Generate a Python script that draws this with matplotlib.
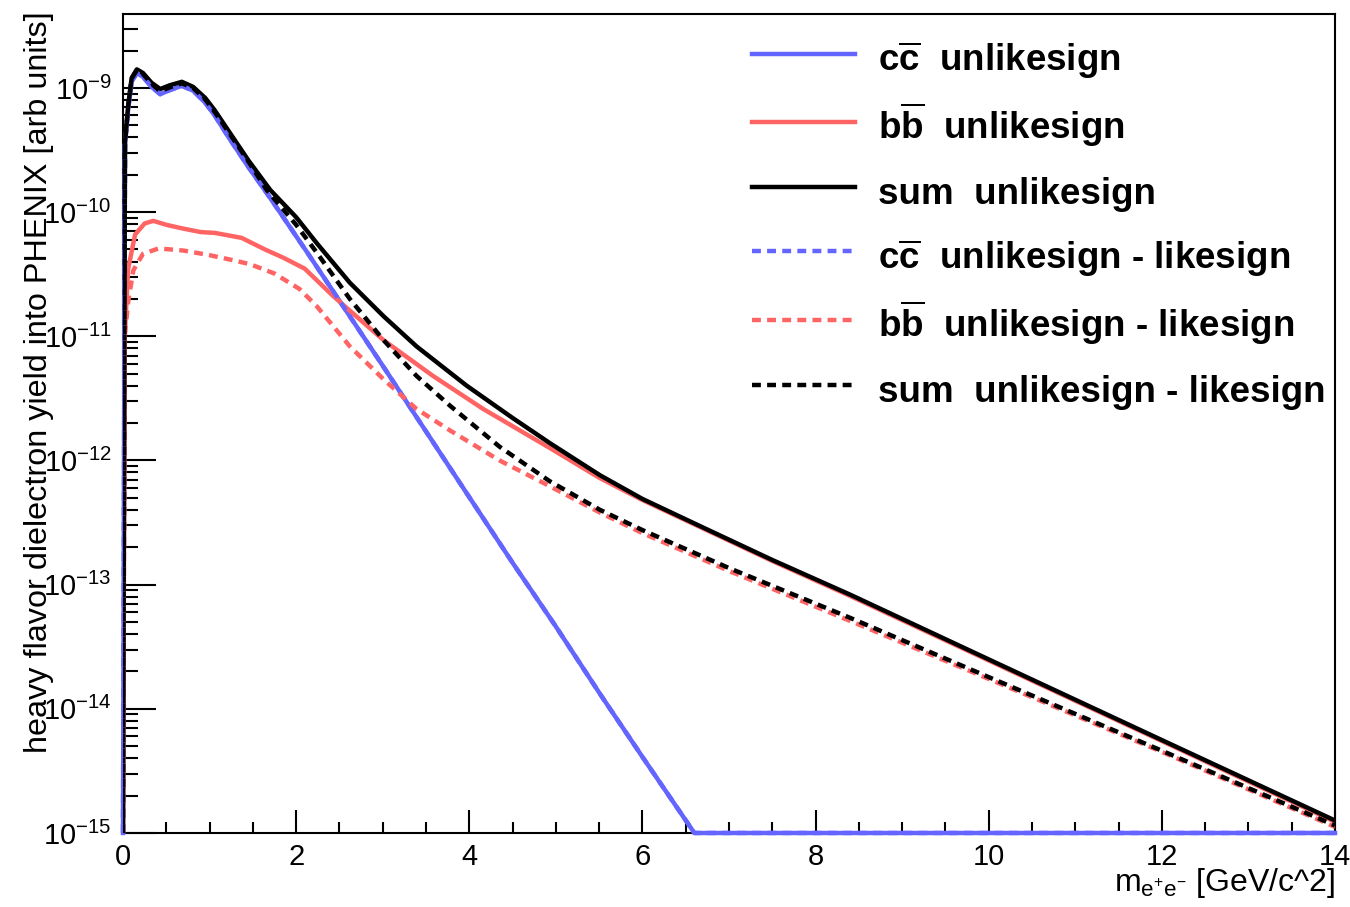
import matplotlib
matplotlib.use('Agg')
import matplotlib.pyplot as plt
from matplotlib.ticker import LogLocator, MultipleLocator, NullFormatter

plt.rcParams['font.family'] = ['Liberation Sans', 'DejaVu Sans']
plt.rcParams['mathtext.fontset'] = 'custom'
plt.rcParams['mathtext.rm'] = 'Liberation Sans'
plt.rcParams['mathtext.it'] = 'Liberation Sans:italic'
plt.rcParams['mathtext.bf'] = 'Liberation Sans:bold'
plt.rcParams['mathtext.default'] = 'regular'

# dielectron mass (GeV/c^2) and yields per source
m_cc = [0.0, 0.023, 0.06, 0.1, 0.16, 0.23, 0.33, 0.43, 0.54, 0.68, 0.81, 0.95,
        1.06, 1.22, 1.45, 1.7, 2.14, 2.62, 3.0, 3.39, 3.93, 4.5, 5.0, 5.5, 6.0,
        6.6, 8.0, 10.0, 12.0, 14.0]
cc_unlike = [1e-15, 3.5e-10, 6.8e-10, 1.12e-9, 1.32e-9, 1.23e-9, 1.02e-9, 8.9e-10,
             9.6e-10, 1.04e-9, 9.5e-10, 7.6e-10, 6.0e-10, 4.0e-10, 2.3e-10,
             1.3e-10, 4.6e-11, 1.45e-11, 5.8e-12, 2.24e-12, 6.0e-13, 1.5e-13,
             4.6e-14, 1.35e-14, 4.1e-15, 1e-15, 1e-15, 1e-15, 1e-15, 1e-15]
cc_sub = cc_unlike  # like-sign subtraction leaves charm unchanged

m_bb = [0.0, 0.02, 0.06, 0.14, 0.25, 0.35, 0.5, 0.68, 0.9, 1.06, 1.37, 1.64, 1.85,
        2.1, 2.43, 3.01, 3.58, 4.16, 4.93, 5.51, 6.0, 6.67, 7.5, 8.4, 10.0, 12.0,
        14.0]
bb_unlike = [1e-15, 1.0e-11, 3.5e-11, 6.6e-11, 8.1e-11, 8.5e-11, 7.9e-11, 7.4e-11,
             6.9e-11, 6.8e-11, 6.2e-11, 5.0e-11, 4.3e-11, 3.5e-11, 2.1e-11,
             9.3e-12, 4.8e-12, 2.6e-12, 1.26e-12, 7.2e-13, 4.8e-13, 2.9e-13,
             1.55e-13, 8.1e-14, 2.45e-14, 5.5e-15, 1.23e-15]

m_bb_sub = [0.0, 0.02, 0.06, 0.12, 0.23, 0.41, 0.7, 1.0, 1.27, 1.47, 1.75, 2.04,
            2.24, 2.62, 3.01, 3.39, 3.78, 4.35, 4.93, 5.51, 6.0, 7.0, 8.4, 10.0,
            12.0, 14.0]
bb_sub = [1e-15, 1.0e-11, 1.9e-11, 3.4e-11, 4.6e-11, 5.1e-11, 4.9e-11, 4.5e-11,
          4.1e-11, 3.8e-11, 3.2e-11, 2.4e-11, 1.74e-11, 8.3e-12, 4.5e-12, 2.6e-12,
          1.74e-12, 1.0e-12, 6.2e-13, 3.8e-13, 2.6e-13, 1.29e-13, 5.1e-14,
          1.74e-14, 4.5e-15, 1.12e-15]

m_sum = [0.0, 0.023, 0.06, 0.1, 0.16, 0.23, 0.33, 0.43, 0.54, 0.68, 0.81, 0.95,
         1.06, 1.22, 1.45, 1.7, 2.0, 2.24, 2.62, 3.01, 3.39, 3.97, 4.5, 4.93, 5.51,
         6.0, 6.67, 7.5, 8.4, 10.0, 12.0, 14.0]
sum_unlike = [1e-15, 3.7e-10, 7.2e-10, 1.2e-9, 1.41e-9, 1.32e-9, 1.1e-9, 9.8e-10,
              1.05e-9, 1.12e-9, 1.02e-9, 8.3e-10, 6.6e-10, 4.5e-10, 2.6e-10,
              1.51e-10, 9.1e-11, 5.6e-11, 2.7e-11, 1.45e-11, 8.3e-12, 4.0e-12,
              2.2e-12, 1.38e-12, 7.6e-13, 4.9e-13, 2.95e-13, 1.58e-13, 8.3e-14,
              2.5e-14, 5.6e-15, 1.26e-15]

m_sum_sub = [0.0, 0.023, 0.06, 0.1, 0.16, 0.23, 0.33, 0.43, 0.54, 0.68, 0.81, 0.95,
             1.06, 1.22, 1.45, 1.66, 2.0, 2.24, 2.62, 3.01, 3.39, 3.78, 4.35, 4.93,
             5.51, 6.0, 7.0, 8.4, 10.0, 12.0, 14.0]
sum_sub = [1e-15, 3.6e-10, 7.1e-10, 1.19e-9, 1.39e-9, 1.3e-9, 1.08e-9, 9.4e-10,
           1.01e-9, 1.09e-9, 1.0e-9, 8.1e-10, 6.4e-10, 4.4e-10, 2.55e-10, 1.51e-10,
           7.9e-11, 4.7e-11, 2.0e-11, 9.3e-12, 4.8e-12, 2.75e-12, 1.29e-12,
           6.8e-13, 4.0e-13, 2.75e-13, 1.36e-13, 5.4e-14, 1.8e-14, 4.6e-15,
           1.15e-15]

labels = [r'$\mathbf{c}\overline{\mathbf{c}}$  unlikesign',
          r'$\mathbf{b}\overline{\mathbf{b}}$  unlikesign',
          'sum  unlikesign',
          r'$\mathbf{c}\overline{\mathbf{c}}$  unlikesign - likesign',
          r'$\mathbf{b}\overline{\mathbf{b}}$  unlikesign - likesign',
          'sum  unlikesign - likesign']

blue = '#6464ff'
red = '#ff6464'
lw = 3.2
dash = (0, (2.0, 1.4))

fig = plt.figure(figsize=(13.5, 9.07), dpi=100)
ax = fig.add_axes([0.0911, 0.0816, 0.8978, 0.903])

ax.plot(m_cc, cc_unlike, color=blue, lw=lw, label=labels[0], clip_on=False, zorder=3)
ax.plot(m_bb, bb_unlike, color=red, lw=lw, label=labels[1], zorder=3)
ax.plot(m_sum, sum_unlike, color='black', lw=lw, label=labels[2], zorder=3)
ax.plot(m_cc, cc_sub, color=blue, lw=lw, ls=dash, label=labels[3], clip_on=False, zorder=3)
ax.plot(m_bb_sub, bb_sub, color=red, lw=lw, ls=dash, label=labels[4], zorder=3)
ax.plot(m_sum_sub, sum_sub, color='black', lw=lw, ls=dash, label=labels[5], zorder=3)

ax.set_yscale('log')
ax.set_xlim(0, 14)
ax.set_ylim(1e-15, 3.94e-9)

ax.xaxis.set_major_locator(MultipleLocator(2))
ax.xaxis.set_minor_locator(MultipleLocator(0.5))
ax.yaxis.set_major_locator(LogLocator(base=10, numticks=20))
ax.yaxis.set_minor_locator(LogLocator(base=10, subs=range(2, 10), numticks=20))
ax.yaxis.set_minor_formatter(NullFormatter())

ax.tick_params(which='both', direction='in', top=False, right=False, width=1.5,
               labelsize=21)
ax.tick_params(axis='x', which='major', length=16.5, pad=7.5)
ax.tick_params(axis='x', which='minor', length=8)
ax.tick_params(axis='y', which='major', length=24, pad=8)
ax.tick_params(axis='y', which='minor', length=11)
for sp in ax.spines.values():
    sp.set_linewidth(1.5)

ax.set_xlabel(r'$m_{e^{+}e^{-}}$ [GeV/c^2]', fontsize=23, loc='right')
ax.xaxis.set_label_coords(1.0, -0.040)
ax.xaxis.label.set_va('top')
ax.set_ylabel('heavy flavor dielectron yield into PHENIX [arb units]',
              fontsize=23.3, loc='top')
ax.yaxis.set_label_coords(-0.057, 1.003)

ax.legend(loc='center left', bbox_to_anchor=(0.519, 0.7433), frameon=False,
          prop={'weight': 'bold', 'size': 26.5}, handlelength=2.8,
          handleheight=1.5, handletextpad=0.63, labelspacing=0.54,
          borderpad=0, borderaxespad=0)

fig.savefig('out.png', dpi=100)
